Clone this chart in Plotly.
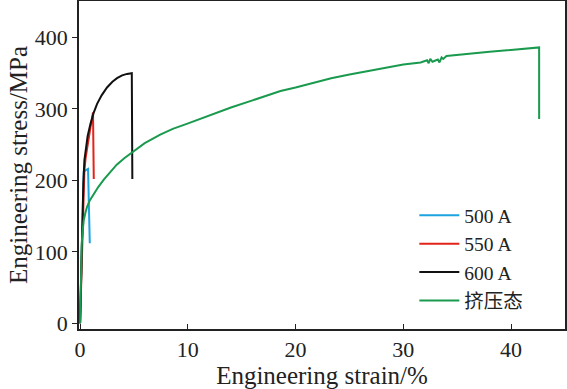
import plotly.graph_objects as go

# Data
strain_500 = [0, 0.1, 0.2, 0.3, 0.34, 0.5, 0.74, 0.9]
stress_500 = [0, 70, 140, 200, 212, 214, 216, 112]

strain_550 = [0, 0.15, 0.3, 0.4, 0.52, 0.65, 0.8, 0.96, 1.1, 1.2, 1.27]
stress_550 = [0, 90, 170, 214, 232, 246, 262, 274, 285, 295, 202]

strain_600 = [0, 0.15, 0.3, 0.4, 0.5, 0.7, 0.96, 1.25, 1.58, 2.0, 2.5, 3.0, 3.43, 3.9, 4.36, 4.8, 4.85]
stress_600 = [0, 110, 195, 228, 242, 262, 279, 294, 307, 319, 330, 338, 343, 347, 349, 350, 202]

strain_ext = [0, 0.05, 0.09, 0.15, 0.22, 0.34, 0.5, 0.65, 0.9, 1.27, 1.7, 2.2, 2.8, 3.4, 4.1, 4.82,
              6.0, 7.44, 8.6, 9.9, 11.3, 12.7, 14.0, 16.0, 18.6, 20.0, 21.5, 23.3, 25.0, 27.9,
              30.0, 31.6, 32.2, 32.35, 32.5, 32.7, 33.2, 33.35, 33.55, 33.7, 34.0, 38.0,
              42.6, 42.6]
stress_ext = [0, 50, 88, 110, 127, 144, 155, 163, 172, 181, 191, 201, 212, 222, 231, 239,
              252, 264, 272, 279, 287, 295, 302, 312, 325, 330, 336, 343, 348, 356,
              362, 365, 368, 364, 370, 366, 369, 365, 372, 370, 374, 380,
              386, 286]

series = [
    ("500 A", strain_500, stress_500, "#1ca3e0"),
    ("550 A", strain_550, stress_550, "#e2231a"),
    ("600 A", strain_600, stress_600, "#111111"),
    ("挤压态", strain_ext, stress_ext, "#1a9a4e"),
]

x_ticks = [0, 10, 20, 30, 40]
y_ticks = [0, 100, 200, 300, 400]

FONT = "Liberation Serif, Times New Roman, Noto Sans CJK SC, serif"

fig = go.Figure()
for name, xs, ys, col in series:
    fig.add_trace(go.Scatter(x=xs, y=ys, mode="lines", name=name,
                             line=dict(color=col, width=2)))

fig.update_layout(
    width=567, height=389,
    margin=dict(l=79, r=2, t=1, b=60),
    paper_bgcolor="white", plot_bgcolor="white",
    font=dict(family=FONT, color="#222222", size=20),
    showlegend=True,
    legend=dict(x=0.69, y=0.405, xanchor="left", yanchor="top",
                bgcolor="rgba(0,0,0,0)", font=dict(size=19.5, family=FONT),
                itemwidth=40, tracegroupgap=0),
)
fig.update_xaxes(
    range=[-0.1, 45], tickvals=x_ticks, ticks="inside", ticklen=5,
    tickcolor="#222", showline=True, linecolor="#222", linewidth=1.5,
    mirror=True, showgrid=False, zeroline=False, automargin=False,
    tickfont=dict(size=22),
    title=dict(text="Engineering strain/%", font=dict(size=25), standoff=2),
)
fig.update_yaxes(
    range=[-8, 451], tickvals=y_ticks, ticks="outside", ticklen=5,
    tickcolor="#222", showline=True, linecolor="#222", linewidth=1.5,
    mirror=True, showgrid=False, zeroline=False, automargin=False,
    tickfont=dict(size=22),
    title=dict(text="Engineering stress/MPa", font=dict(size=25), standoff=0),
)

fig.write_html("out.html", config={"displayModeBar": False},
               post_script="document.body.style.margin='0';document.body.style.overflow='hidden';")
